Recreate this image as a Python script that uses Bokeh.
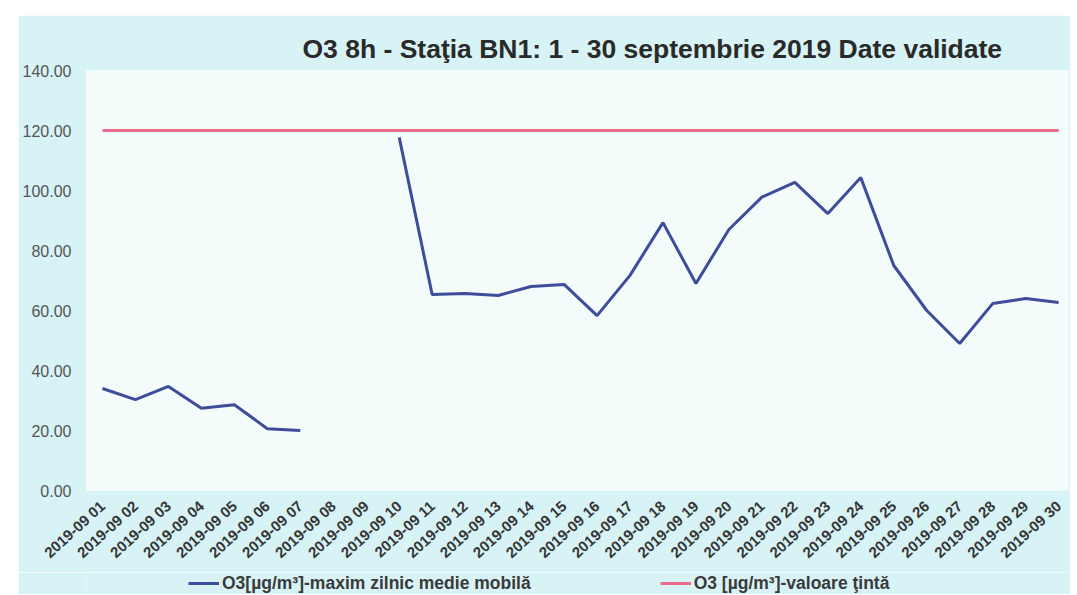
import numpy as np
from bokeh.plotting import figure
from bokeh.layouts import column, row
from bokeh.models import Range1d, FixedTicker, Legend, LegendItem, ColumnDataSource, Spacer
from bokeh.embed import file_html
from bokeh.resources import INLINE

nan = float("nan")

days = ["2019-09 01", "2019-09 02", "2019-09 03", "2019-09 04", "2019-09 05",
        "2019-09 06", "2019-09 07", "2019-09 08", "2019-09 09", "2019-09 10",
        "2019-09 11", "2019-09 12", "2019-09 13", "2019-09 14", "2019-09 15",
        "2019-09 16", "2019-09 17", "2019-09 18", "2019-09 19", "2019-09 20",
        "2019-09 21", "2019-09 22", "2019-09 23", "2019-09 24", "2019-09 25",
        "2019-09 26", "2019-09 27", "2019-09 28", "2019-09 29", "2019-09 30"]

o3_max_8h = [34.0, 30.3, 34.7, 27.4, 28.6, 20.6, 20.0, nan, nan, 117.7,
             65.3, 65.7, 65.0, 68.0, 68.7, 58.3, 71.7, 89.3, 69.0, 87.0,
             97.8, 102.7, 92.3, 104.3, 75.0, 60.0, 49.0, 62.3, 64.0, 62.7]

o3_target = [120, 120, 120, 120, 120, 120, 120, 120, 120, 120,
             120, 120, 120, 120, 120, 120, 120, 120, 120, 120,
             120, 120, 120, 120, 120, 120, 120, 120, 120, 120]

y_ticks = [0, 20, 40, 60, 80, 100, 120, 140]

title_text = "O3 8h - Staţia BN1: 1 - 30 septembrie 2019 Date validate"
label_max = "O3[µg/m³]-maxim zilnic medie mobilă"
label_target = "O3 [µg/m³]-valoare ţintă"

pos = list(range(len(days)))
src = ColumnDataSource(dict(x=pos, y=o3_max_8h, t=o3_target))

OUTER = "#d8f3f5"
INNER = "#f3fbfb"
BLUE = "#3e4c9c"
PINK = "#ec6b8c"
FONT = "Liberation Sans"

p = figure(width=1052, height=557, output_backend="svg", toolbar_location=None,
           x_range=Range1d(-0.485, 29.30), y_range=Range1d(0, 140),
           min_border_left=68, min_border_right=2, min_border_top=55,
           min_border_bottom=82)

p.background_fill_color = INNER
p.border_fill_color = OUTER
p.outline_line_color = None
p.grid.grid_line_color = None

p.title.text = title_text
p.title.align = "left"
p.title.offset = 216
p.title.text_font = FONT
p.title.text_font_size = "26.5px"
p.title.text_font_style = "bold"
p.title.text_color = "#2a2a2a"
p.title.standoff = 14

p.line("x", "t", source=src, line_color=PINK, line_width=3)
p.line("x", "y", source=src, line_color=BLUE, line_width=3)

xa = p.xaxis[0]
xa.ticker = FixedTicker(ticks=pos)
xa.major_label_overrides = {i: d for i, d in zip(pos, days)}
xa.major_label_orientation = 0.74
xa.axis_line_color = None
xa.major_tick_line_color = None
xa.minor_tick_line_color = None
xa.major_tick_out = 0
xa.major_tick_in = 0
xa.major_label_text_font = FONT
xa.major_label_text_font_size = "15px"
xa.major_label_text_font_style = "bold"
xa.major_label_text_color = "#363636"
xa.major_label_standoff = 13

ya = p.yaxis[0]
ya.ticker = FixedTicker(ticks=y_ticks)
ya.major_label_overrides = {v: f"{v:.2f}" for v in y_ticks}
ya.axis_line_color = None
ya.major_tick_line_color = None
ya.minor_tick_line_color = None
ya.major_tick_out = 0
ya.major_tick_in = 0
ya.major_label_text_font = FONT
ya.major_label_text_font_size = "16px"
ya.major_label_text_color = "#555555"
ya.major_label_standoff = 15

# legend strip below the chart
lf = figure(width=1052, height=22, output_backend="svg", toolbar_location=None,
            x_range=Range1d(0, 1), y_range=Range1d(0, 1),
            x_axis_location=None, y_axis_location=None, min_border=0)
lf.background_fill_color = OUTER
lf.border_fill_color = OUTER
lf.outline_line_color = None
lf.grid.grid_line_color = None
lr_max = lf.line(x=[nan], y=[nan], line_color=BLUE, line_width=3)
lr_target = lf.line(x=[nan], y=[nan], line_color=PINK, line_width=3)

legend = Legend(items=[LegendItem(label=label_max, renderers=[lr_max]),
                       LegendItem(label=label_target, renderers=[lr_target])],
                orientation="horizontal", location=(102, 0))
legend.background_fill_alpha = 0
legend.border_line_alpha = 0
legend.padding = 0
legend.margin = 0
legend.spacing = 129
legend.glyph_width = 31
legend.glyph_height = 22
legend.label_height = 22
legend.label_standoff = 3
legend.label_text_font = FONT
legend.label_text_font_size = "17.5px"
legend.label_text_font_style = "bold"
legend.label_text_color = "#3a3a3a"
lf.add_layout(legend, "center")

layout = row(Spacer(width=18), column(Spacer(height=15), p, lf, spacing=0), spacing=0)
open("out.html", "w").write(file_html(layout, INLINE))
